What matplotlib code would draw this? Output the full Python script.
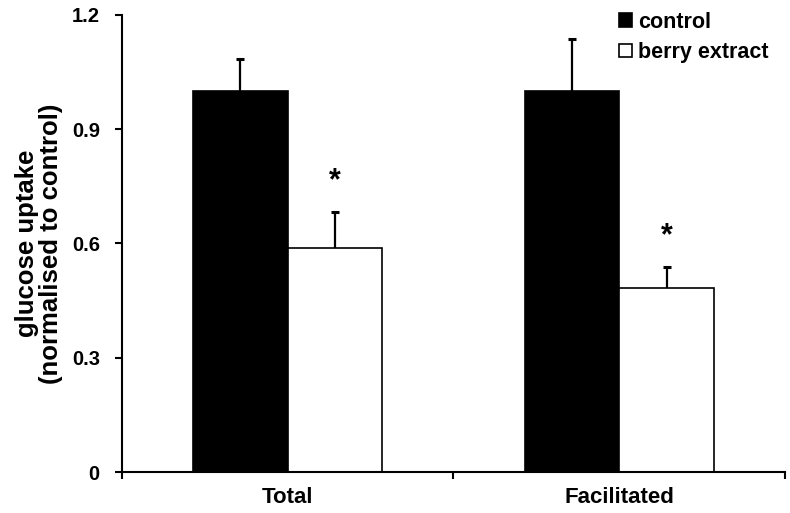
import matplotlib

matplotlib.use("Agg")
import matplotlib.pyplot as plt  # noqa: E402
import numpy as np  # noqa: E402

plt.rcParams["font.family"] = ["Liberation Sans", "DejaVu Sans"]
plt.rcParams["font.weight"] = "bold"

# values
categories = ["Total", "Facilitated"]
control = [1.0, 1.0]
control_err = [0.085, 0.136]
berry = [0.587, 0.484]
berry_err = [0.097, 0.055]
significant = [True, True]
yticks = [0, 0.3, 0.6, 0.9, 1.2]
yticklabels = ["0", "0.3", "0.6", "0.9", "1.2"]

fig = plt.figure(figsize=(7.9, 5.13), dpi=100)
ax = fig.add_axes([0.1544, 0.0799, 0.8393, 0.8909])

x = np.arange(len(categories)) + 0.5
w = 0.285

ax.bar(x - w / 2, control, w, color="black", edgecolor="black", linewidth=1.2, label="control")
ax.bar(x + w / 2, berry, w, color="white", edgecolor="black", linewidth=1.2, label="berry extract")


def upper_err(xs, vals, errs):
    # error bar drawn upward only, with a small cap on top
    xs = np.asarray(xs)
    tops = np.asarray(vals) + np.asarray(errs)
    ax.vlines(xs, vals, tops, color="black", linewidth=1.6)
    ax.plot(xs, tops, ls="none", marker="_", ms=6, mew=2.2, color="black")


upper_err(x - w / 2, control, control_err)
upper_err(x + w / 2, berry, berry_err)

for xi, v, e, sig in zip(x, berry, berry_err, significant):
    if sig:
        ax.text(xi + w / 2, v + e + 0.04, "*", ha="center", va="bottom",
                fontsize=22, fontweight="bold")

ax.set_xlim(0, len(categories))
ax.set_ylim(0, 1.2)
ax.set_yticks(yticks)
ax.set_yticklabels(yticklabels, fontsize=14.5, fontweight="bold")
ax.set_xticks([0, 1, 2])
ax.set_xticklabels([])
ax.set_xticks(x, minor=True)
ax.set_xticklabels(categories, minor=True, fontsize=16, fontweight="bold")
ax.tick_params(axis="x", which="minor", length=0, pad=11)
ax.tick_params(axis="x", which="major", length=5, width=1.5, direction="out")
ax.tick_params(axis="y", length=5, width=1.5, direction="out", pad=11)

for side in ["top", "right"]:
    ax.spines[side].set_visible(False)
for side in ["left", "bottom"]:
    ax.spines[side].set_linewidth(1.5)

ax.set_ylabel("glucose uptake\n(normalised to control)", fontsize=18.5, fontweight="bold",
              labelpad=6, linespacing=1.0)

ax.legend(loc="upper right", bbox_to_anchor=(1.005, 1.05), frameon=False, fontsize=15.5,
          handlelength=0.6, handleheight=0.6, handletextpad=0.3, labelspacing=0.45)

fig.savefig("out.png", dpi=100)
